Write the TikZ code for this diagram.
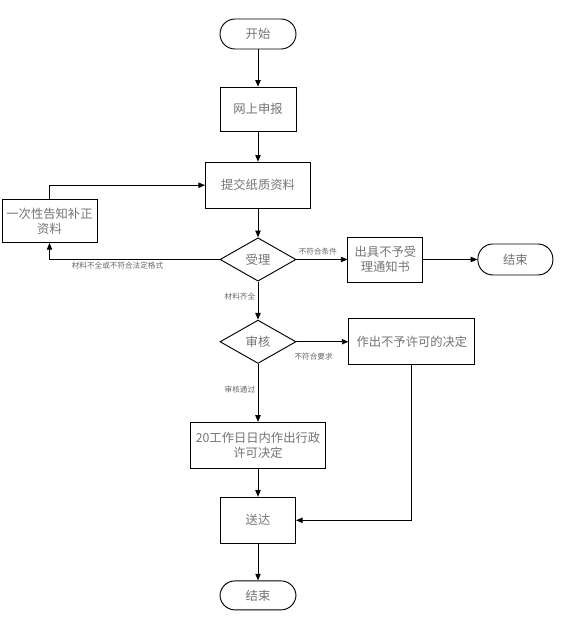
\documentclass[tikz,border=0pt]{standalone}
\usepackage{fontspec}
\setmainfont{Noto Sans CJK SC}
\usepackage{tikz}
\usetikzlibrary{positioning,arrows.meta,shapes.geometric}

\begin{document}
\begin{tikzpicture}[
    font=\fontsize{10.5}{13}\selectfont,
    bx/.style={draw, line width=0.8pt, align=center, text=black!55,
        inner sep=1pt},
    term/.style={bx, rounded corners=0.45cm, minimum width=2.28cm, minimum height=0.9cm},
    dec/.style={bx, diamond, aspect=1.7, inner sep=0pt,
        minimum width=2.28cm, minimum height=1.3cm},
    ar/.style={-{Triangle[length=2mm, width=1.6mm]}, line width=0.8pt},
    lab/.style={font=\fontsize{6.5}{8}\selectfont, text=black!60, inner sep=2pt},
]
    \useasboundingbox (0,0) rectangle (17.07,-18.9);

    % ---------- main column ----------
    \node[term] (start) at (7.74,-1.02) {开始};
    \node[bx, minimum width=2.28cm, minimum height=1.32cm, below=1.12cm of start] (online) {网上申报};
    \node[bx, minimum width=3.15cm, minimum height=1.38cm, below=0.9cm of online] (paper) {提交纸质资料};
    \node[dec, below=0.86cm of paper] (accept) {受理};
    \node[dec, below=1.14cm of accept] (review) {审核};
    \node[bx, minimum width=4.05cm, minimum height=1.38cm, below=1.74cm of review] (decide)
        {20工作日日内作出行政\\许可决定};
    \node[bx, minimum width=2.25cm, minimum height=1.38cm, below=0.84cm of decide] (deliver) {送达};
    \node[term, minimum height=0.87cm, below=1.1cm of deliver] (endB) {结束};

    % ---------- side branches ----------
    \node[bx, minimum width=2.85cm, minimum height=1.29cm] (amend) at (1.485,-6.63)
        {一次性告知补正\\资料};
    \node[bx, minimum width=2.25cm, minimum height=1.35cm, right=1.53cm of accept] (refuse)
        {出具不予受\\理通知书};
    \node[term, minimum width=2.25cm, minimum height=0.93cm, right=1.62cm of refuse] (endA) {结束};
    \node[bx, minimum width=3.78cm, minimum height=1.38cm, right=1.56cm of review] (deny)
        {作出不予许可的决定};

    % ---------- connectors ----------
    \draw[ar] (start) -- (online);
    \draw[ar] (online) -- (paper);
    \draw[ar] (paper) -- (accept);
    \draw[ar] (accept) -- node[pos=0.4, left, lab] {材料齐全} (review);
    \draw[ar] (review) -- node[pos=0.45, left, lab] {审核通过} (decide);
    \draw[ar] (decide) -- (deliver);
    \draw[ar] (deliver) -- (endB);
    \draw[ar] (accept.east) -- node[pos=0.42, above=1pt, lab] {不符合条件} (refuse);
    \draw[ar] (review.east) -- node[pos=0.33, below=7pt, lab] {不符合要求} (deny);
    \draw[ar] (refuse) -- (endA);
    \draw[ar] (deny.south) |- (deliver.east);
    \draw[ar] (accept.west) -| node[pos=0.3, below, lab] {材料不全或不符合法定格式} (amend.south);
    \draw[ar] (amend.north) |- (paper.west);
\end{tikzpicture}
\end{document}
